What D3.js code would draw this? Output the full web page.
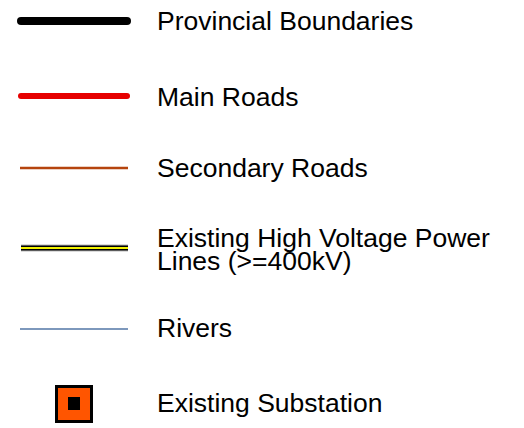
<!DOCTYPE html>
<html>
<head>
<meta charset="utf-8">
<script src="https://cdn.jsdelivr.net/npm/d3@7/dist/d3.min.js"></script>
<style>
  html, body { margin: 0; padding: 0; background: #fff; }
  svg { display: block; }
  text { font-family: "Liberation Sans", Arial, Helvetica, sans-serif; font-size: 26.5px; fill: #000; }
</style>
</head>
<body>
<svg id="chart" width="524" height="428"></svg>
<script>
// Legend categories (text)
const categories = ["boundary", "mainRoad", "secondaryRoad", "powerLine", "river", "substation"];
const labels = [
  ["Provincial Boundaries"],
  ["Main Roads"],
  ["Secondary Roads"],
  ["Existing High Voltage Power", "Lines (>=400kV)"],
  ["Rivers"],
  ["Existing Substation"]
];

// Layout (positions only)
const rowCenters = [21, 96, 168, 248, 329, 403];
const svg = d3.select("#chart");

const y = d3.scaleOrdinal().domain(categories).range(rowCenters);
const x = d3.scaleLinear().domain([0, 1]).range([20, 128]);

const g = svg.selectAll("g.row").data(categories).join("g")
  .attr("class", "row")
  .attr("transform", d => `translate(0,${y(d)})`);

function line(sel, x0, x1, w, color, cap) {
  sel.append("line")
    .attr("x1", x0).attr("x2", x1).attr("y1", 0).attr("y2", 0)
    .attr("stroke", color).attr("stroke-width", w)
    .attr("stroke-linecap", cap || "butt");
}

g.each(function(d) {
  const s = d3.select(this);
  if (d === "boundary") {
    line(s, x(0) + 1, x(1) - 1, 8, "#000", "round");
  } else if (d === "mainRoad") {
    line(s, x(0) + 1, x(1) - 1, 6, "#e60000", "round");
  } else if (d === "secondaryRoad") {
    line(s, x(0), x(1), 2.5, "#b5440d");
  } else if (d === "powerLine") {
    line(s, x(0) + 1, x(1), 7, "#b8b8b8");
    line(s, x(0) + 1, x(1), 5, "#000");
    line(s, x(0) + 1, x(1), 2.2, "#f2f200");
  } else if (d === "river") {
    line(s, x(0), x(1), 1.6, "#5276a6");
  } else if (d === "substation") {
    s.append("rect").attr("x", 56.5).attr("y", -16.5).attr("width", 35).attr("height", 35)
      .attr("fill", "#ff5500").attr("stroke", "#000").attr("stroke-width", 3);
    s.append("rect").attr("x", 68).attr("y", -6).attr("width", 12).attr("height", 13)
      .attr("fill", "#000");
  }
});

// Labels
const baselineOffsets = [8.5, 10, 9, -1, 8, 9];
g.append("text")
  .attr("x", 157)
  .attr("y", (d, i) => baselineOffsets[i])
  .each(function(d, i) {
    const t = d3.select(this);
    labels[i].forEach((ln, j) => {
      t.append("tspan").attr("x", 157).attr("dy", j === 0 ? 0 : 22.5).text(ln);
    });
  });
</script>
</body>
</html>
